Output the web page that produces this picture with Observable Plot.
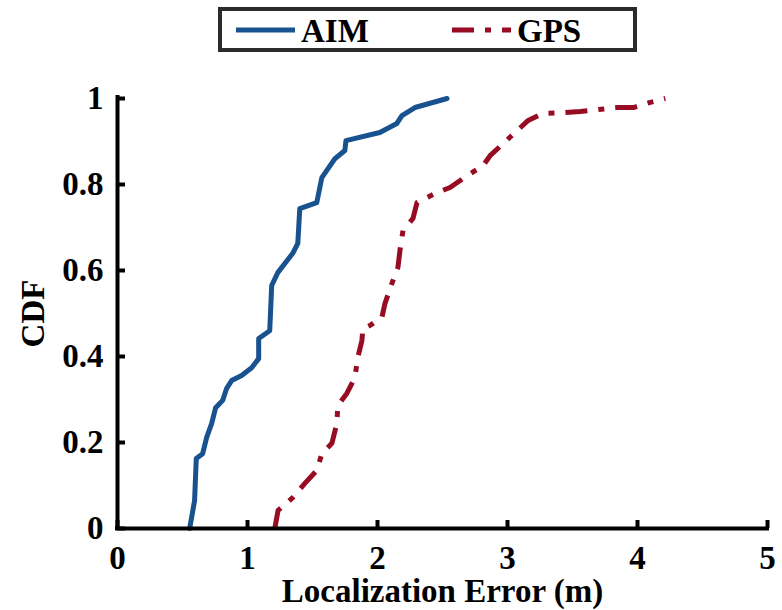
<!DOCTYPE html>
<html>
<head>
<meta charset="utf-8">
<script src="https://cdn.jsdelivr.net/npm/d3@7"></script>
<script src="https://cdn.jsdelivr.net/npm/@observablehq/plot@0.6"></script>
<style>
  html, body { margin: 0; padding: 0; background: #fff; }
  #wrap { width: 782px; height: 610px; position: relative; }
  #legend { position: relative; height: 60px; }
  #legendBox { position: absolute; left: 218px; top: 7px; width: 419px; height: 45px; border: 4px solid #2b2b2b; box-sizing: border-box; }
  svg text { font-family: "Liberation Serif", "Times New Roman", "DejaVu Serif", serif !important; }
</style>
</head>
<body>
<div id="wrap">
  <div id="legend"><div id="legendBox"></div></div>
  <div id="chart"></div>
</div>
<script>
// ---- data ----
const seriesNames = ["AIM", "GPS"];
const seriesColors = ["#18528f", "#980c23"];
const seriesDash = [null, "22,11,6,11"];

const aimX = [0.555, 0.593, 0.606, 0.655, 0.686, 0.724, 0.755, 0.809, 0.840, 0.878, 0.955, 1.032, 1.086, 1.086, 1.171, 1.186, 1.233, 1.348, 1.387, 1.394, 1.402, 1.533, 1.572, 1.610, 1.672, 1.749, 1.757, 2.018, 2.149, 2.188, 2.288, 2.535];
const aimY = [0.000, 0.065, 0.163, 0.174, 0.212, 0.244, 0.281, 0.298, 0.326, 0.344, 0.356, 0.374, 0.395, 0.442, 0.460, 0.565, 0.595, 0.640, 0.663, 0.700, 0.744, 0.758, 0.816, 0.833, 0.860, 0.879, 0.902, 0.921, 0.942, 0.960, 0.979, 1.000];

const gpsX = [1.210, 1.235, 1.348, 1.441, 1.533, 1.572, 1.649, 1.687, 1.695, 1.764, 1.826, 1.849, 1.880, 1.888, 1.941, 2.034, 2.057, 2.111, 2.157, 2.173, 2.196, 2.273, 2.304, 2.442, 2.558, 2.658, 2.812, 2.866, 2.966, 3.159, 3.267, 3.428, 3.559, 3.690, 3.844, 3.968, 4.099, 4.214];
const gpsY = [0.000, 0.042, 0.072, 0.105, 0.135, 0.174, 0.198, 0.244, 0.286, 0.314, 0.351, 0.398, 0.437, 0.465, 0.472, 0.491, 0.523, 0.570, 0.607, 0.647, 0.693, 0.721, 0.758, 0.779, 0.793, 0.814, 0.844, 0.867, 0.895, 0.949, 0.965, 0.967, 0.970, 0.974, 0.979, 0.979, 0.991, 1.000];

const xTicks = [0, 1, 2, 3, 4, 5];
const xTickLabels = ["0", "1", "2", "3", "4", "5"];
const yTicks = [0, 0.2, 0.4, 0.6, 0.8, 1];
const yTickLabels = ["0", "0.2", "0.4", "0.6", "0.8", "1"];
const xLabel = "Localization Error (m)";
const yLabel = "CDF";

// ---- build tables ----
const aim = aimX.map((x, i) => ({x, y: aimY[i]}));
const gps = gpsX.map((x, i) => ({x, y: gpsY[i]}));

const W = 782, H = 550;
const mT = 38, mB = 82, mL = 117, mR = 15;
const innerW = W - mL - mR, innerH = H - mT - mB;
const FONT = "'Liberation Serif', 'Times New Roman', 'DejaVu Serif', serif";
const FS = 33;

const chart = Plot.plot({
  width: W, height: H,
  marginTop: mT, marginBottom: mB, marginLeft: mL, marginRight: mR,
  style: {fontFamily: FONT, background: "white", overflow: "visible"},
  x: {domain: [0, 5]},
  y: {domain: [0, 1]},
  marks: [
    Plot.line(aim, {x: "x", y: "y", stroke: seriesColors[0], strokeWidth: 5, strokeLinejoin: "round"}),
    Plot.line(gps, {x: "x", y: "y", stroke: seriesColors[1], strokeWidth: 5, strokeDasharray: seriesDash[1], strokeLinecap: "butt", strokeLinejoin: "round"}),
    // axis lines
    Plot.ruleX([0], {stroke: "black", strokeWidth: 4, insetTop: -3, insetBottom: -2}),
    Plot.ruleY([0], {stroke: "black", strokeWidth: 4, insetLeft: -2, insetRight: -2}),
    // inward ticks
    Plot.ruleX(xTicks, {stroke: "black", strokeWidth: 4, insetTop: innerH - 8}),
    Plot.ruleY(yTicks, {stroke: "black", strokeWidth: 4, insetRight: innerW - 8}),
    Plot.axisX(xTicks, {
      tickSize: 0, tickPadding: 17, fontSize: FS, fontWeight: "bold",
      tickFormat: (d, i) => xTickLabels[xTicks.indexOf(d)],
      label: xLabel, labelAnchor: "center", labelOffset: 73, labelArrow: "none"
    }),
    Plot.axisY(yTicks, {
      tickSize: 0, tickPadding: 14, fontSize: FS, fontWeight: "bold",
      tickFormat: (d) => yTickLabels[yTicks.indexOf(d)],
      label: yLabel, labelAnchor: "center", labelOffset: 97, labelArrow: "none"
    })
  ]
});
document.getElementById("chart").appendChild(chart);

// ---- legend ----
const lg = d3.select("#legendBox").append("svg")
  .attr("width", 411).attr("height", 37)
  .style("display", "block");
const itemX = [14, 230];
seriesNames.forEach((name, i) => {
  lg.append("line")
    .attr("x1", itemX[i]).attr("x2", itemX[i] + 59)
    .attr("y1", 19).attr("y2", 19)
    .attr("stroke", seriesColors[i]).attr("stroke-width", 5)
    .attr("stroke-dasharray", seriesDash[i])
    .attr("stroke-linecap", "butt");
  lg.append("text")
    .attr("x", itemX[i] + 65).attr("y", 31)
    .attr("font-weight", "bold").attr("font-size", FS)
    .attr("fill", "black")
    .text(name);
});
</script>
</body>
</html>
